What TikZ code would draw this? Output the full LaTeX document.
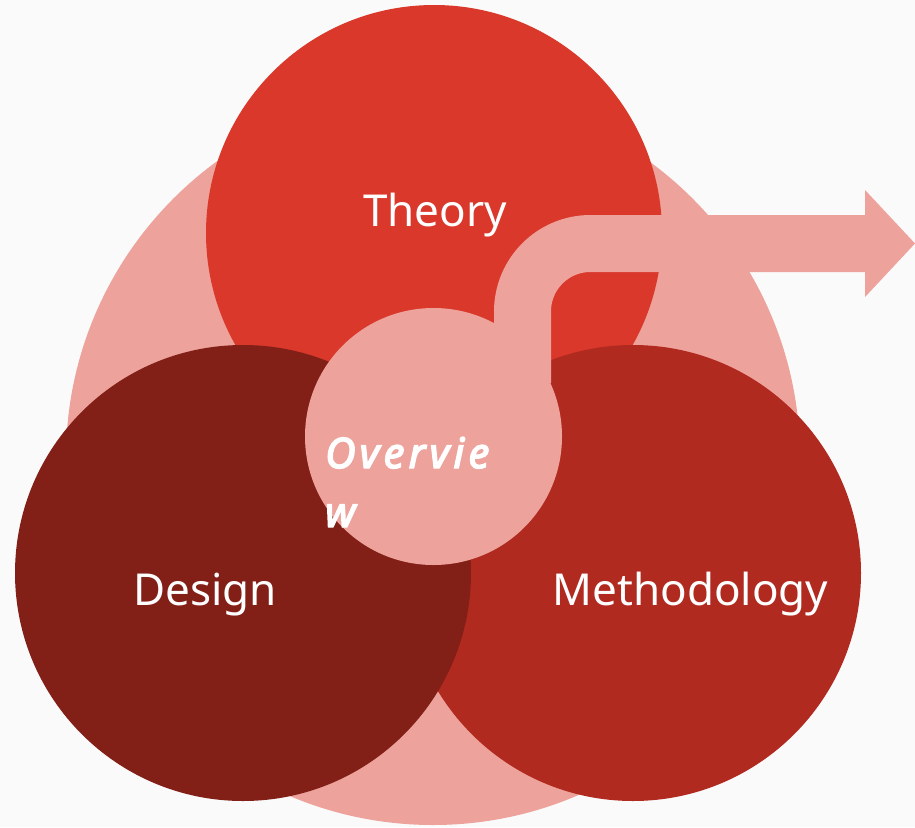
\documentclass[tikz,border=0pt]{standalone}
\usepackage{fontspec}
\setmainfont{Noto Sans}
% heavy italic for the hub label: emboldened italic with open tracking
\newfontfamily\ovfont[LetterSpace=10, ItalicFeatures={FakeBold=3.5}]{Noto Sans}
\definecolor{paper}{HTML}{FAFAFA}
\definecolor{blush}{HTML}{EDA29B}
\definecolor{theoryred}{HTML}{D9382B}
\definecolor{methred}{HTML}{B02A20}
\definecolor{designred}{HTML}{821F17}
\tikzset{
  disc/.style={circle, inner sep=0pt, outer sep=0pt, draw=none},
  bigdisc/.style={disc, minimum size=456pt},
  label/.style={text=white, inner sep=0pt, font=\fontsize{44}{48}\selectfont},
}
\begin{document}
\begin{tikzpicture}[x=1pt, y=-1pt]
  \fill[paper] (0,0) rectangle (915,827);
  \useasboundingbox (0,0) rectangle (915,827);

  % outer halo and the three overlapping areas
  \node[disc, minimum size=734pt, fill=blush] (halo) at (433,458) {};
  \node[bigdisc, fill=theoryred] (theory) at (434,233) {};
  \node[bigdisc, fill=methred] (method) at (633,573) {};
  \node[bigdisc, fill=designred] (design) at (243,573) {};

  % central hub
  \node[disc, minimum size=257pt, fill=blush] (hub) at (433.5,436.5) {};

  % outgoing arrow leaving the hub
  \coordinate (stem) at (522.5,383);
  \coordinate (shaftend) at (866,243.5);
  \coordinate (tip) at (915,243.5);
  \draw[blush, line width=57pt, rounded corners=68pt] (stem) |- (shaftend);
  \fill[blush] (865,190) -- (tip) -- (865,297) -- cycle;

  % labels
  \node[label, anchor=base] (tlabel) at (435,226) {Theory};
  \node[label, anchor=base] (dlabel) at (205,605) {Design};
  \node[label, anchor=base] (mlabel) at (690.5,605) {Methodology};
  \node[text=white, inner sep=0pt, anchor=base west, align=left,
        font=\ovfont\itshape\fontsize{42}{59}\selectfont] (ovlabel) at (325,527) {Overvie\\w};
\end{tikzpicture}
\end{document}
